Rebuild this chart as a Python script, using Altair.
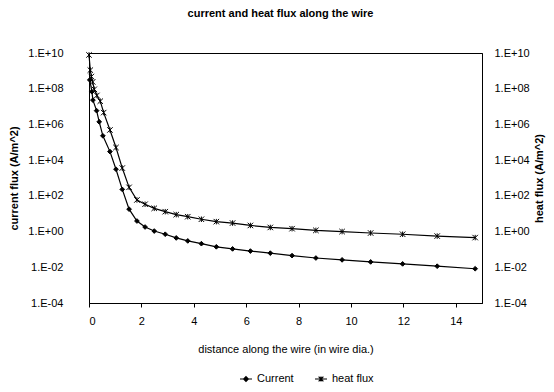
import altair as alt
import pandas as pd

# distance along the wire (in wire diameters)
current_x = [0.03, 0.11, 0.15, 0.29, 0.39, 0.53, 0.80, 1.03, 1.27, 1.53, 1.83, 2.14,
             2.49, 2.91, 3.33, 3.77, 4.29, 4.86, 5.48, 6.16, 6.92, 7.75, 8.66, 9.66,
             10.75, 11.97, 13.29, 14.74]
current_y = [3.1e8, 6.8e7, 2.3e7, 5.9e6, 1.4e6, 2.3e5, 3.0e4, 3.1e3, 2.3e2, 18, 3.9, 1.8,
             1.07, 0.71, 0.44, 0.30, 0.21, 0.14, 0.107, 0.081, 0.062, 0.045, 0.033, 0.026,
             0.020, 0.0155, 0.0115, 0.0083]

heat_x = [0.0, 0.05, 0.09, 0.14, 0.20, 0.30, 0.43, 0.56, 0.80, 1.03, 1.27, 1.53, 1.83,
          2.14, 2.49, 2.91, 3.33, 3.77, 4.29, 4.86, 5.48, 6.16, 6.92, 7.75, 8.66, 9.66,
          10.75, 11.97, 13.29, 14.74]
heat_y = [7.8e9, 1.1e9, 4.8e8, 2.4e8, 9.3e7, 4.2e7, 2.0e7, 4.6e6, 4.9e5, 5.1e4, 3.6e3,
          3.0e2, 59, 34, 20, 13, 8.9, 6.8, 4.9, 3.6, 3.0, 2.2, 1.7, 1.45, 1.17, 1.0,
          0.83, 0.71, 0.56, 0.46]

series_names = ["Current", "heat flux"]
y_ticks = [1e-4, 1e-2, 1e0, 1e2, 1e4, 1e6, 1e8, 1e10]
x_ticks = [0, 2, 4, 6, 8, 10, 12, 14]

df_cur = pd.DataFrame({"x": current_x, "y": current_y, "series": series_names[0]})
df_heat = pd.DataFrame({"x": heat_x, "y": heat_y, "series": series_names[1]})
df_all = pd.concat([df_cur, df_heat], ignore_index=True)

FONT = "Liberation Sans"
XPATH = "M-1,-1L1,1M-1,1L1,-1M0,-1L0,1"
LEG_CUR = ("M-1,0L1,0M0,-0.4L0.4,0L0,0.4L-0.4,0Z"
           "M-0.25,0L0.25,0M0,-0.25L0,0.25M-0.15,-0.15L0.15,0.15M-0.15,0.15L0.15,-0.15")
LEG_HEAT = "M-1,0L1,0M-0.4,-0.4L0.4,0.4M-0.4,0.4L0.4,-0.4M0,-0.4L0,0.4"

label_expr = ("'1.E' + (round(log(datum.value)/LN10) < 0 ? '-' : '+') + "
              "(abs(round(log(datum.value)/LN10)) < 10 ? '0' : '') + "
              "abs(round(log(datum.value)/LN10))")

x_enc = alt.X("x:Q", scale=alt.Scale(domain=[0, 15], nice=False, zero=False),
              axis=alt.Axis(values=x_ticks, title="distance along the wire (in wire dia.)",
                            grid=False, tickSize=4, tickColor="black", domainColor="black",
                            labelPadding=8, titlePadding=17, titleFontWeight="normal"))

yscale = alt.Scale(type="log", domain=[1e-4, 1e10], nice=False)

def y_enc(orient, title, pad, tpad):
    return alt.Y("y:Q", scale=yscale,
                 axis=alt.Axis(orient=orient, values=y_ticks, labelExpr=label_expr,
                               title=title, grid=False, ticks=False, domainColor="black",
                               labelPadding=pad, titlePadding=tpad, titleAngle=270))

def series_layer(df, orient, title, pad, tpad, shape, size):
    base = alt.Chart(df)
    line = base.mark_line(color="black", strokeWidth=1.2).encode(
        x=x_enc, y=y_enc(orient, title, pad, tpad))
    pts = base.mark_point(filled=True, fill="black", stroke="black", strokeWidth=1,
                          size=size, opacity=1).encode(
        x=x_enc, y=y_enc(orient, title, pad, tpad), shape=alt.value(shape))
    return alt.layer(line, pts)

left = series_layer(df_cur, "left", "current flux (A/m^2)", 26, 8, "diamond", 22)
right = series_layer(df_heat, "right", "heat flux (A/m^2)", 12, 15, XPATH, 30)

legend_layer = alt.Chart(df_all).mark_point(
    filled=False, stroke="black", strokeWidth=1.2, size=0, opacity=1
).encode(
    x=alt.X("x:Q", scale=alt.Scale(domain=[0, 15], nice=False, zero=False)),
    y=alt.Y("y:Q", scale=yscale, axis=None),
    shape=alt.Shape("series:N",
                    scale=alt.Scale(domain=series_names, range=[LEG_CUR, LEG_HEAT]),
                    legend=alt.Legend(title=None, orient="none", direction="horizontal",
                                      legendX=150, legendY=319, symbolSize=144,
                                      symbolOpacity=1, symbolStrokeWidth=1.2,
                                      labelOffset=4, columnPadding=18,
                                      symbolStrokeColor="black", symbolFillColor="black")),
)

chart = alt.layer(left, right, legend_layer).resolve_scale(y="independent").properties(
    width=393, height=250,
    title=alt.TitleParams("current and heat flux along the wire", fontSize=11,
                          font=FONT, fontWeight="bold", offset=28, dx=-5),
    autosize=alt.AutoSizeParams(type="none"),
    padding={"left": 81, "top": 45, "right": 64, "bottom": 80},
).configure_view(stroke="black", strokeWidth=1).configure_axis(
    labelFont=FONT, titleFont=FONT, labelFontSize=11, titleFontSize=11,
    labelColor="black", titleColor="black", titleFontWeight="bold"
).configure_legend(labelFont=FONT, labelFontSize=11, labelColor="black")

chart.save("out.html", embed_options={"renderer": "svg", "actions": False})
